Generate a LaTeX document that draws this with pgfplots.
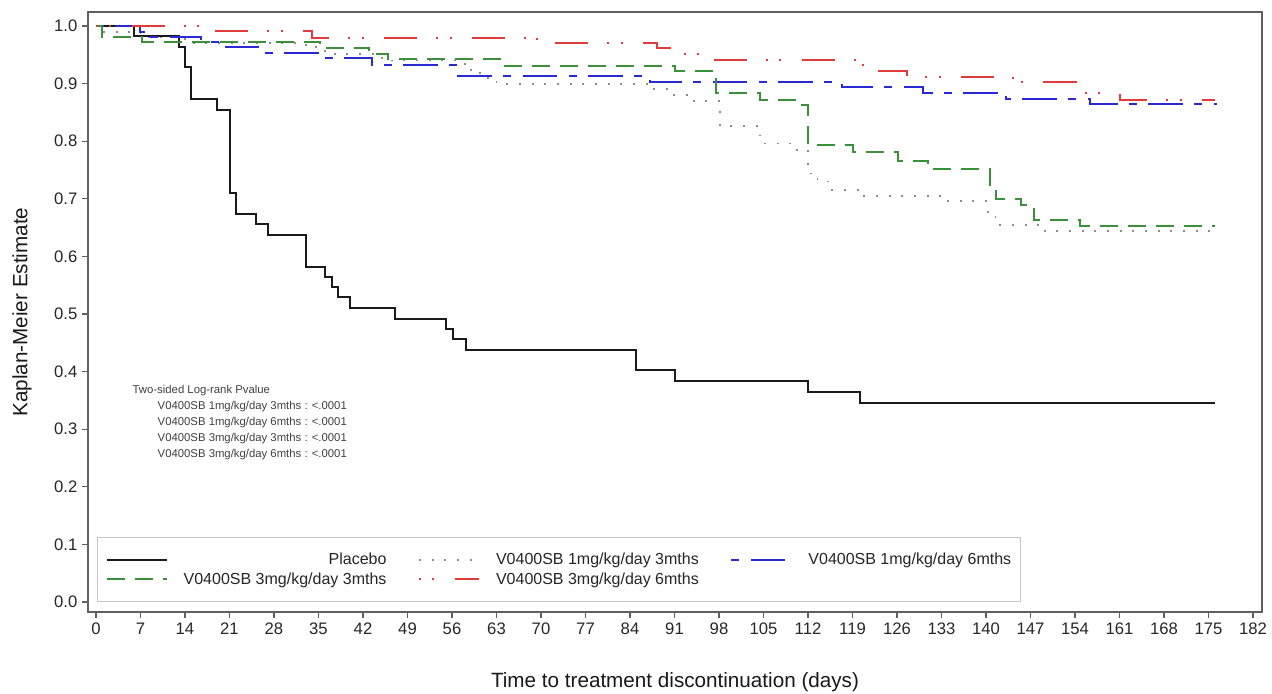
\documentclass[border=0pt]{standalone}
\usepackage{fontspec}
\setmainfont{Liberation Sans}
\usepackage{pgfplots}
\pgfplotsset{compat=1.18}
\definecolor{kmblack}{HTML}{1A1A1A}
\definecolor{kmgray}{HTML}{8C8C8C}
\definecolor{kmblue}{HTML}{2A2AD4}
\definecolor{kmgreen}{HTML}{3A913A}
\definecolor{kmred}{HTML}{E03C3C}
\definecolor{framegray}{HTML}{606060}
\begin{document}
\begin{tikzpicture}
\begin{axis}[
  scale only axis,
  width=880.5pt, height=450pt,
  xmin=-1.2584, xmax=183.4157,
  ymin=-0.01736, ymax=1.0243,
  xtick={0,7,...,182},
  ytick={0,0.1,0.2,0.3,0.4,0.5,0.6,0.7,0.8,0.9,1.0},
  tick align=outside, tick pos=left,
  major tick length=4.5pt,
  axis line style={draw=framegray, line width=1.1pt},
  tick style={draw=framegray, line width=0.8pt},
  /pgf/number format/assume math mode=true,
  ticklabel style={font=\fontsize{12.5}{14}\selectfont, text=black!85},
  yticklabel style={/pgf/number format/.cd, fixed, fixed zerofill, precision=1},
  xlabel={Time to treatment discontinuation (days)},
  ylabel={Kaplan-Meier Estimate},
  label style={font=\fontsize{15.5}{18}\selectfont, text=black!90},
  xlabel style={at={(axis description cs:0.5,-0.117)}, anchor=center},
  ylabel style={at={(axis description cs:-0.0562,0.5)}, anchor=center},
  legend columns=3,
  legend cell align=right,
  legend style={at={(axis description cs:0.00767,0.01667)}, anchor=south west,
    draw=gray!45, line width=0.8pt, font=\fontsize{12}{14}\selectfont, text=black!85,
    inner xsep=6pt, inner ysep=11pt, row sep=3pt, nodes={inner sep=0.6pt},
    /tikz/every odd column/.append style={column sep=11.5pt},
    /tikz/every even column/.append style={column sep=23pt}},
  legend image code/.code={\draw[#1] (0pt,0pt) -- (45pt,0pt);},
]
\coordinate (BL) at (rel axis cs:0,0);
\coordinate (TR) at (rel axis cs:1,1);

% Placebo
\addplot[const plot, draw=kmblack, line width=1.5pt] coordinates {
(0,1.0) (6.0,0.983) (13.1,0.964) (14.0,0.928) (14.9,0.873) (19.0,0.855)
(21.0,0.71) (22.0,0.674) (25.1,0.656) (27.0,0.637) (33.0,0.582) (36.1,0.565)
(37.1,0.547) (38.0,0.529) (40.0,0.510) (47.0,0.491) (55.0,0.474) (56.1,0.456)
(58.2,0.4375) (85.0,0.402) (91.1,0.384) (112.0,0.365) (120.2,0.346) (176,0.346)
};
\addlegendentry{Placebo}

% 1mg 3mths
\addplot[const plot, draw=kmgray, line width=1.3pt, dash pattern=on 1.5pt off 8pt] coordinates {
(0,1.0) (1,0.99) (7,0.98) (14,0.97) (33,0.963) (36,0.951) (45,0.94) (58,0.93)
(59,0.918) (61,0.91) (63,0.899) (87,0.89) (90.5,0.88) (94,0.87) (98.2,0.826)
(104,0.81) (105.2,0.796) (110,0.785) (112,0.744) (113.5,0.73) (115.5,0.715)
(120,0.705) (133,0.696) (140.3,0.677) (141.5,0.655) (148.7,0.644) (176,0.644)
};
\addlegendentry{V0400SB 1mg/kg/day 3mths}

% 1mg 6mths
\addplot[const plot, draw=kmblue, line width=1.5pt, dash pattern=on 6pt off 8.5pt on 26pt off 8.5pt] coordinates {
(0,1.0) (6.9,0.99) (7.5,0.981) (16.5,0.973) (20,0.963) (26.1,0.953) (35.2,0.944)
(43.4,0.932) (57,0.913) (87.1,0.903) (117.3,0.894) (130.1,0.884) (143.2,0.873)
(156.3,0.865) (176.3,0.865)
};
\addlegendentry{V0400SB 1mg/kg/day 6mths}

% 3mg 3mths
\addplot[const plot, draw=kmgreen, line width=1.5pt, dash pattern=on 13.5pt off 7.5pt] coordinates {
(0,1.0) (0.9,0.981) (7.2,0.973) (35.2,0.961) (43,0.951) (46,0.942) (63.8,0.931)
(91.1,0.921) (97.6,0.883) (104.5,0.872) (110.5,0.863) (112,0.793) (119.1,0.782)
(126.2,0.765) (130.9,0.751) (140.6,0.72) (141.5,0.70) (145.5,0.689) (147.5,0.663)
(154.8,0.652) (176,0.652)
};
\addlegendentry{V0400SB 3mg/kg/day 3mths}

% 3mg 6mths
\addplot[const plot, draw=kmred, line width=1.5pt, dash pattern=on 1.5pt off 8.5pt on 1.5pt off 15.25pt on 25pt off 14.25pt] coordinates {
(0,1.0) (18.7,0.992) (33.9,0.98) (69.4,0.971) (88.2,0.961) (90.5,0.951) (97.1,0.941)
(119.9,0.932) (121.1,0.921) (127.5,0.912) (144.2,0.902) (154.5,0.883) (161,0.872)
(176,0.872)
};
\addlegendentry{V0400SB 3mg/kg/day 6mths}

\node[anchor=west, font=\fontsize{8.5}{10}\selectfont, text=black!75] at (axis cs:5.03,0.3663) {Two-sided Log-rank Pvalue};
\node[anchor=west, font=\fontsize{8.5}{10}\selectfont, text=black!75] at (axis cs:8.97,0.3385) {V0400SB 1mg/kg/day 3mths : <.0001};
\node[anchor=west, font=\fontsize{8.5}{10}\selectfont, text=black!75] at (axis cs:8.97,0.3113) {V0400SB 1mg/kg/day 6mths : <.0001};
\node[anchor=west, font=\fontsize{8.5}{10}\selectfont, text=black!75] at (axis cs:8.97,0.2835) {V0400SB 3mg/kg/day 3mths : <.0001};
\node[anchor=west, font=\fontsize{8.5}{10}\selectfont, text=black!75] at (axis cs:8.97,0.2564) {V0400SB 3mg/kg/day 6mths : <.0001};
\end{axis}
\pgfresetboundingbox
\path[use as bounding box] ([xshift=-66pt, yshift=-61.5pt]BL) rectangle ([xshift=7.5pt, yshift=9pt]TR);
\end{tikzpicture}
\end{document}
